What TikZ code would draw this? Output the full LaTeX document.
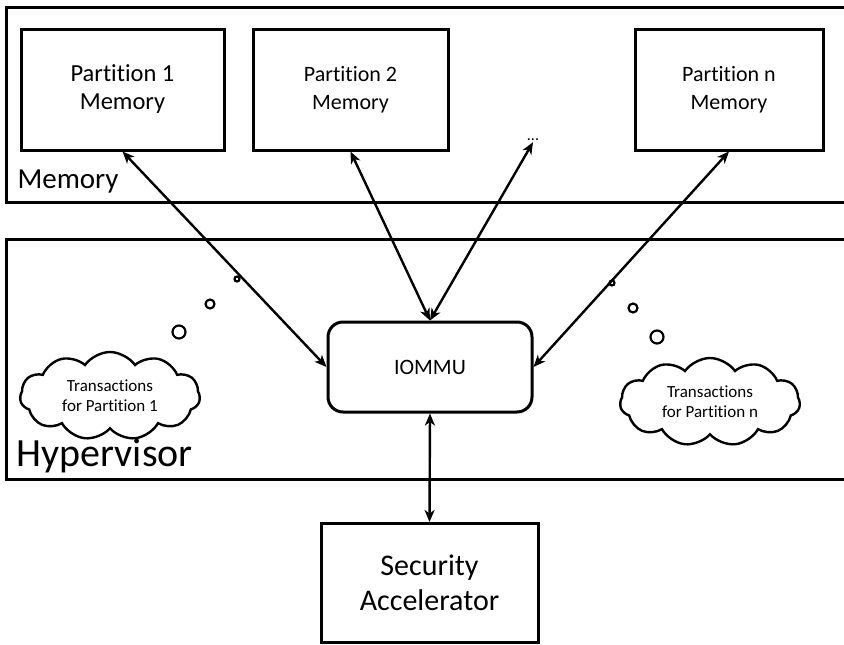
\documentclass[tikz,border=0pt]{standalone}
\usepackage{fontspec}
\setmainfont[Ligatures=NoCommon]{Carlito}
\usetikzlibrary{arrows.meta,shapes.symbols}
\tikzset{
  region/.style={draw, line width=3pt},
  membox/.style={draw, line width=3pt, minimum width=#1, minimum height=121pt, align=center, inner sep=0pt},
  link/.style={line width=2.4pt, {Stealth[length=12pt,width=10pt,inset=3.5pt]}-{Stealth[length=12pt,width=10pt,inset=3.5pt]}},
  thought/.style={cloud, cloud puffs=11, cloud puff arc=110, aspect=2.1, draw, line width=2.4pt, minimum width=180pt, minimum height=88pt, align=center, inner sep=0pt},
  bubble/.style={draw, line width=2.2pt}
}
\begin{document}
\begin{tikzpicture}[x=1pt,y=-1pt]
\useasboundingbox (0,0) rectangle (844,645);
\fill[white] (0,0) rectangle (844,645);
% regions
\draw[region] (850,7) -- (6,7) -- (6,202) -- (850,202);
\draw[region] (850,239) -- (6,239) -- (6,479) -- (850,479);
\node[anchor=base west, font=\fontsize{29}{34}\selectfont] (memlbl) at (14,188) {Memory};
\node[anchor=base west, font=\fontsize{40}{46}\selectfont] (hyplbl) at (13,466) {Hypervisor};
% partitions
\node[membox=203pt, font=\fontsize{24.5}{28}\selectfont] (p1) at (122.5,89.5) {Partition 1\\Memory};
\node[membox=195pt, font=\fontsize{22}{27.5}\selectfont] (p2) at (350.5,89.5) {Partition 2\\Memory};
\node[membox=188pt, font=\fontsize{22}{27.5}\selectfont] (pn) at (729,89.5) {Partition n\\Memory};
\node[font=\fontsize{16}{16}\selectfont, inner sep=1pt] (dots) at (533,140) {...};
% IOMMU
\node[draw, line width=3pt, rounded corners=15pt, minimum width=204pt, minimum height=90pt, inner sep=0pt, font=\fontsize{22}{26}\selectfont] (iommu) at (430,367) {IOMMU};
% security
\node[draw, line width=3pt, minimum width=217pt, minimum height=119pt, align=center, inner sep=0pt, font=\fontsize{30}{35}\selectfont] (sec) at (429.5,583) {Security\\Accelerator};
% connectors
\draw[link] (p1.south) -- (iommu.west);
\draw[link] (p2.south) -- (iommu.north);
\draw[link] (iommu.north) -- (dots.south);
\draw[link] (pn.south) -- (iommu.east);
\draw[link] (iommu.south) -- (sec.north);
% thought bubbles
\draw[bubble] (237,279) circle (2.5);
\draw[bubble] (210,304) circle (4.5);
\draw[bubble] (179,332) circle (6.5);
\draw[bubble] (612,283) circle (2.5);
\draw[bubble] (633,308) circle (4.5);
\draw[bubble] (657,337) circle (6.5);
\node[thought, font=\fontsize{17}{20}\selectfont] (c1) at (110,396) {Transactions\\for Partition 1};
\node[thought, font=\fontsize{17}{20}\selectfont] (cn) at (710,402) {Transactions\\for Partition n};
\end{tikzpicture}
\end{document}
